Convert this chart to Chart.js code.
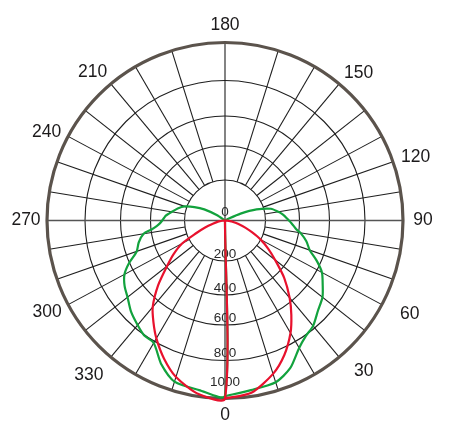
<!DOCTYPE html>
<html>
<head>
<meta charset="utf-8">
<script src="https://cdn.jsdelivr.net/npm/chart.js@4.4.1/dist/chart.umd.min.js"></script>
<style>
  html, body { margin: 0; padding: 0; background: #fff; }
  #wrap { width: 450px; height: 440px; position: relative; }
</style>
</head>
<body>
<div id="wrap"><canvas id="polar"></canvas></div>
<script>
// gamma angles of each half plane (deg), 0 = straight down
const gammaDeg = [0, 5, 10, 15, 20, 25, 30, 35, 40, 45, 50, 55, 60, 65, 70, 75, 80, 85, 90,
  95, 100, 105, 110, 115, 120, 125, 130, 135, 140, 145, 150, 155, 160, 165, 170, 175, 180];

// red curve (cd), right half and left half
const redRight = [1000, 980, 909, 837, 745, 662, 575, 454, 337, 266, 200, 147, 106, 66, 37, 22, 12, 5, 0,
  0, 0, 0, 0, 0, 0, 0, 0, 0, 0, 0, 0, 0, 0, 0, 0, 0, 0];
const redLeft = [1000, 987, 926, 858, 780, 713, 646, 525, 395, 323, 248, 156, 104, 59, 35, 25, 15, 7, 0,
  0, 0, 0, 0, 0, 0, 0, 0, 0, 0, 0, 0, 0, 0, 0, 0, 0, 0];

// green curve (cd), right half and left half
const greenRight = [988, 966, 955, 913, 839, 805, 785, 741, 710, 669, 631, 572, 502, 463, 413, 384, 368, 353, 338,
  324, 311, 297, 279, 241, 165, 84, 15, 0, 0, 0, 0, 0, 0, 0, 0, 0, 0];
const greenLeft = [985, 966, 952, 892, 809, 803, 779, 749, 710, 687, 654, 600, 527, 497, 453, 397, 365, 344, 331,
  321, 311, 294, 278, 249, 212, 165, 116, 49, 0, 0, 0, 0, 0, 0, 0, 0, 0];

// tick labels
const radialTicks = [0, 200, 400, 600, 800, 1000];
const angleLabels = ["0", "30", "60", "90", "120", "150", "180", "210", "240", "270", "300", "330"];

// --- geometry of the (slightly distorted) polar grid ---
const ringPx = [0, 40.5, 74.5, 104.5, 140, 178];          // radius of each ring
const quarterG = [0, 10, 20, 30, 40, 50, 60, 70, 90];      // gamma from vertical
const quarterD = [0, 17.4, 30.2, 39.9, 51.8, 61.8, 70.7, 80.7, 90]; // drawn angle
const spokeGamma = [10, 20, 30, 40, 50, 60, 70, 110, 120, 130, 140, 150, 160, 170];
// where the angle labels sit: [drawn angle from bottom, distance from centre]
const labelPos = [[0, 195], [42.6, 205], [63.2, 207], [90, 198], [108.5, 201], [137.8, 199],
  [180, 195.5], [221.7, 199], [243.7, 199], [270, 199], [297.2, 200], [318.6, 206]];

function radius(v) {
  const i = Math.min(4, Math.floor(v / 200));
  return ringPx[i] + (v - i * 200) / 200 * (ringPx[i + 1] - ringPx[i]);
}

function quarter(g) {
  for (let i = 1; i < quarterG.length; i++) {
    if (g <= quarterG[i]) {
      const t = (g - quarterG[i - 1]) / (quarterG[i] - quarterG[i - 1]);
      return quarterD[i - 1] + t * (quarterD[i] - quarterD[i - 1]);
    }
  }
  return 90;
}

function drawnAngle(g) {
  return g <= 90 ? quarter(g) : 180 - quarter(180 - g);
}

function toPoint(g, v, side) {
  const a = drawnAngle(g) * Math.PI / 180;
  const r = radius(v);
  return { x: side * r * Math.sin(a), y: -r * Math.cos(a) };
}

function halfPlanes(right, left) {
  return gammaDeg.map((g, i) => toPoint(g, right[i], 1))
    .concat(gammaDeg.map((g, i) => toPoint(g, left[i], -1)));
}

const gridPlugin = {
  id: "polarGrid",
  beforeDatasetsDraw(chart) {
    const { ctx, scales: { x, y } } = chart;
    const cx = x.getPixelForValue(0);
    const cy = y.getPixelForValue(0);
    const px = r => x.getPixelForValue(r) - cx;
    const rIn = px(radius(200));
    const rOut = px(radius(1000));
    ctx.save();

    // spokes
    ctx.strokeStyle = "#1e1e1e";
    ctx.lineWidth = 1.1;
    [1, -1].forEach(side => {
      spokeGamma.forEach(g => {
        const a = drawnAngle(g) * Math.PI / 180;
        const sx = side * Math.sin(a), sy = Math.cos(a);
        ctx.beginPath();
        ctx.moveTo(cx + sx * rIn, cy + sy * rIn);
        ctx.lineTo(cx + sx * rOut, cy + sy * rOut);
        ctx.stroke();
      });
    });

    // inner rings
    radialTicks.forEach(v => {
      if (v === 0 || v === 1000) return;
      ctx.beginPath();
      ctx.arc(cx, cy, px(radius(v)), 0, Math.PI * 2);
      ctx.stroke();
    });

    // vertical axis
    ctx.beginPath();
    ctx.moveTo(cx, cy - rOut);
    ctx.lineTo(cx, cy + rOut);
    ctx.stroke();

    // horizontal axis
    ctx.strokeStyle = "#555";
    ctx.lineWidth = 1.7;
    ctx.beginPath();
    ctx.moveTo(cx - rOut, cy);
    ctx.lineTo(cx + rOut, cy);
    ctx.stroke();

    // outer ring
    ctx.strokeStyle = "#5b534c";
    ctx.lineWidth = 3.2;
    ctx.beginPath();
    ctx.arc(cx, cy, rOut, 0, Math.PI * 2);
    ctx.stroke();

    // angle labels
    ctx.fillStyle = "#1c1a1b";
    ctx.font = "17.5px Arial, 'Liberation Sans', sans-serif";
    ctx.textAlign = "center";
    ctx.textBaseline = "middle";
    angleLabels.forEach((t, i) => {
      const a = labelPos[i][0] * Math.PI / 180;
      const d = labelPos[i][1];
      ctx.fillText(t, cx + d * Math.sin(a), cy + d * Math.cos(a));
    });

    // radial labels
    ctx.fillStyle = "#2a2a2a";
    ctx.font = "13.5px Arial, 'Liberation Sans', sans-serif";
    radialTicks.forEach(v => {
      let yy;
      if (v === 0) yy = cy - 8;
      else yy = cy + px(radius(v)) - (v === 1000 ? 16 : 7);
      ctx.fillText(String(v), cx, yy);
    });

    ctx.restore();
  }
};

new Chart(document.getElementById("polar").getContext("2d"), {
  type: "scatter",
  data: {
    datasets: [
      {
        label: "red",
        data: halfPlanes(redRight, redLeft),
        showLine: true,
        borderColor: "#e8112d",
        borderWidth: 2.2,
        tension: 0.25,
        pointRadius: 0,
        fill: false
      },
      {
        label: "green",
        data: halfPlanes(greenRight, greenLeft),
        showLine: true,
        borderColor: "#12a23d",
        borderWidth: 2.2,
        tension: 0.25,
        pointRadius: 0,
        fill: false
      }
    ]
  },
  options: {
    responsive: true,
    maintainAspectRatio: false,
    animation: false,
    layout: { padding: 0 },
    scales: {
      x: { type: "linear", min: -225, max: 225, display: false },
      y: { type: "linear", min: -219.5, max: 220.5, display: false }
    },
    plugins: {
      legend: { display: false },
      tooltip: { enabled: false }
    }
  },
  plugins: [gridPlugin]
});
</script>
</body>
</html>
